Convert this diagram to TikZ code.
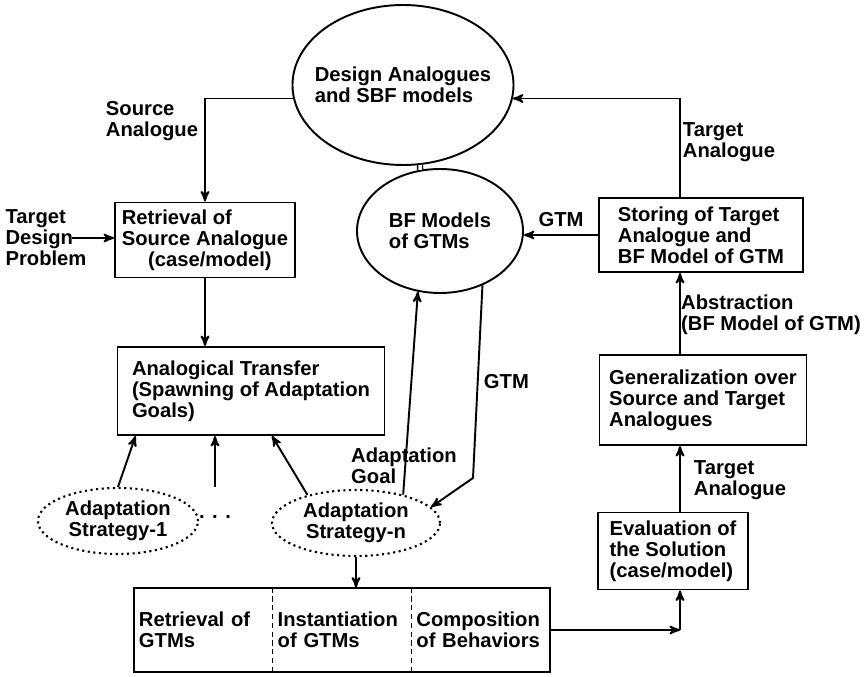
\documentclass[tikz,border=0pt]{standalone}
\usepackage{fontspec}
\setmainfont{Liberation Sans}
\usepackage{tikz}
\usetikzlibrary{arrows, shapes.geometric, positioning}
\tikzset{
>=stealth',
  procbox/.style={
    rectangle,
    draw=black, line width=1.1pt,
    align=left,
    inner sep=1.5pt},
  storell/.style={
    ellipse,
    draw=black, line width=1.1pt,
    align=left,
    inner sep=0pt},
  stratell/.style={
    ellipse,
    draw=black, line width=1.2pt, dotted,
    align=center,
    minimum height=13.2mm,
    inner sep=0pt},
  cellbox/.style={
    rectangle,
    text width=25.6mm,
    minimum height=16.8mm,
    inner sep=1mm,
    align=left},
  flow/.style={draw, line width=1.1pt, ->},
  lbl/.style={align=left, inner sep=0pt},
}

\begin{document}
\begin{tikzpicture}[x=0.2mm, y=-0.2mm, font=\fontsize{11.5}{12}\selectfont\bfseries]
\useasboundingbox (0,0) rectangle (864,677);
% stores
\node[storell, minimum width=44mm, minimum height=32mm, inner xsep=-2mm] (dsgn) at (403,85) {Design Analogues\\and SBF models};
\node[storell, minimum width=33.2mm, minimum height=24.8mm] (bfm) at (440,231) {BF Models\\of GTMs};
\draw[line width=0.8pt, double, double distance=2pt] (dsgn.-78) -- (bfm.108);
% processes
\node[procbox, minimum width=36mm, minimum height=15mm] (rsrc) at (205,240) {Retrieval of\\Source Analogue\\\hspace*{1.3em}(case/model)};
\node[procbox, minimum width=53.4mm, minimum height=17.6mm] (anlg) at (251,391) {Analogical Transfer\\(Spawning of Adaptation\\Goals)};
\node[procbox, minimum width=40.8mm, minimum height=14.8mm] (stor) at (701,235) {Storing of Target\\Analogue and\\BF Model of GTM};
\node[procbox, minimum width=41.4mm, minimum height=18mm] (gen) at (703,400) {Generalization over\\Source and Target\\Analogues};
\node[procbox, minimum width=30mm, minimum height=15.4mm] (eval) at (673,551) {Evaluation of\\the Solution\\(case/model)};
% strategies
\node[stratell, minimum width=32mm] (st1) at (118,521) {Adaptation\\Strategy-1};
\node (dots) at (215,517) {. . .};
\node[stratell, minimum width=33.6mm] (stn) at (356,523) {Adaptation\\Strategy-n};
% GTM steps
\node[cellbox] (gret) at (203,630) {Retrieval of\\GTMs};
\node[cellbox, right=0pt of gret] (ginst) {Instantiation\\of GTMs};
\node[cellbox, right=0pt of ginst] (gcomp) {Composition\\of Behaviors};
\draw[line width=1.1pt] (gret.north west) rectangle (gcomp.south east);
\foreach \c in {gret, ginst}
  \draw[densely dashed, line width=0.6pt] (\c.north east) -- (\c.south east);
% labels
\node[lbl] (tdp) at (46,238) {Target\\Design\\Problem};
\node[lbl] (lsrc) at (152,121) {Source\\Analogue};
\node[lbl] (ltgt) at (729,142) {Target\\Analogue};
\node[lbl] (labs) at (771,315) {Abstraction\\(BF Model of GTM)};
\node[lbl] (ltgt2) at (740,480) {Target\\Analogue};
\node[lbl] (lgoal) at (404,466) {Adaptation\\Goal};
\coordinate (colx) at (680,0);
\coordinate (gtmbend) at (473,478);
\coordinate (evcorner) at (gcomp.east -| colx);
% connectors
\draw[flow] (dsgn.187) -| (rsrc.north);
\draw[flow] ([xshift=-3mm]tdp.east) -- (tdp.east -| rsrc.west);
\draw[flow] (rsrc.south) -- (rsrc.south |- anlg.north);
\draw[flow] (st1.north) -- ([xshift=3.8mm]anlg.south west);
\draw[flow] (dots.north |- st1.north) -- (dots.north |- anlg.south);
\draw[flow] (stn.150) -- ([xshift=4.2mm]anlg.south);
\draw[flow] (stn.31) -- (bfm.250);
\draw[flow] (bfm.-52) -- node[right, inner sep=3pt] (lgtm2) {GTM} (gtmbend) -- (stn.12);
\draw[flow] (stn.south) -- (stn.south |- gret.north);
\draw[flow] (gcomp.east) -- (evcorner);
\draw[flow] (evcorner) -- (evcorner |- eval.south);
\draw[flow] (eval.north -| colx) -- (gen.south -| colx);
\draw[flow] (gen.north -| colx) -- (stor.south -| colx);
\draw[flow] (stor.north -| colx) |- (dsgn.-7);
\draw[flow] (stor.west) -- node[above, inner sep=4pt] (lgtm1) {GTM} (stor.west -| bfm.east);
\end{tikzpicture}
\end{document}
